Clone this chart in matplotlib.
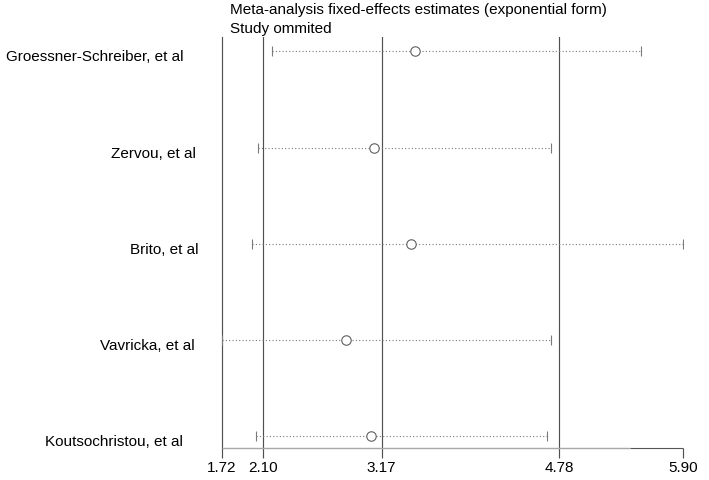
import matplotlib
matplotlib.use("Agg")
import matplotlib.pyplot as plt

# ---- data ----
studies = ["Groessner-Schreiber, et al", "Zervou, et al", "Brito, et al",
           "Vavricka, et al", "Koutsochristou, et al"]
estimates = [3.47, 3.10, 3.44, 2.85, 3.07]
lower = [2.18, 2.05, 2.00, 1.72, 2.03]
upper = [5.52, 4.70, 5.90, 4.70, 4.67]
overall = [2.10, 3.17, 4.78]          # lower CI, pooled estimate, upper CI
xticks = [1.72, 2.10, 3.17, 4.78, 5.90]
xtick_labels = ["1.72", "2.10", "3.17", "4.78", "5.90"]
title_lines = ["Meta-analysis fixed-effects estimates (exponential form)",
               "Study ommited"]

plt.rcParams['font.family'] = ['Liberation Sans', 'DejaVu Sans']
FS = 11

W, H = 709, 481
fig = plt.figure(figsize=(W / 100, H / 100), dpi=100)
fig.patch.set_facecolor('white')

left_px, right_px, top_px, bot_px = 221.5, 683.0, 38.0, 449.3
ax = fig.add_axes([left_px / W, 1 - bot_px / H,
                   (right_px - left_px) / W, (bot_px - top_px) / H])

rows = list(range(1, len(studies) + 1))
xmin, xmax = min(xticks), max(xticks)
ax.set_xlim(xmin, xmax)
ax.set_ylim(5.133, 0.849)

line_col = '#505050'
lw = 0.85

# overall estimate / CI reference lines
for v in overall:
    ax.axvline(v, color=line_col, lw=lw, zorder=1)

# CI lines (dotted) + caps + circles
ax.hlines(rows, lower, upper, colors='#7a7a7a', linestyles=(0, (1, 2)),
          lw=0.8, zorder=2)
ax.plot(lower, rows, ls='none', marker='|', ms=7.5, mew=0.8,
        color='#7a7a7a', zorder=3)
ax.plot(upper, rows, ls='none', marker='|', ms=7.5, mew=0.8,
        color='#7a7a7a', zorder=3)
ax.plot(estimates, rows, ls='none', marker='o', ms=6.8, mfc='white',
        mec='#606060', mew=0.8, zorder=4)

# spines
for s in ['top', 'right', 'bottom']:
    ax.spines[s].set_visible(False)
ax.spines['left'].set_color(line_col)
ax.spines['left'].set_linewidth(lw)

# bottom axis line (two-tone as in the reference)
split = xmin + (630 - left_px) / ((right_px - left_px) / (xmax - xmin))
ax.plot([xmin, split], [5.128, 5.128], color='#a8a8a8', lw=1.0,
        clip_on=False, zorder=5, solid_capstyle='butt')
ax.plot([split, xmax], [5.133, 5.133], color='#555555', lw=0.8,
        clip_on=False, zorder=5, solid_capstyle='butt')

ax.set_xticks(xticks)
ax.set_xticklabels(xtick_labels)
ax.tick_params(axis='x', direction='out', length=7.2, width=lw,
               color=line_col, pad=1.5, labelsize=FS, labelcolor='black')
ax.set_yticks([])

# study labels
label_right = [183, 196, 198, 195, 183]
for r, name, xr in zip(rows, studies, label_right):
    ax.annotate(name, xy=(0, r), xycoords=('axes fraction', 'data'),
                xytext=(xr - left_px, -5), textcoords='offset pixels',
                ha='right', va='center', fontsize=FS, color='black')

# title lines
fig.text(230 / W, 1 - 14 / H, title_lines[0], ha='left', va='baseline',
         fontsize=FS, color='black')
fig.text(230 / W, 1 - 33 / H, title_lines[1], ha='left', va='baseline',
         fontsize=FS, color='black')

fig.savefig('out.png', dpi=100, facecolor='white')
